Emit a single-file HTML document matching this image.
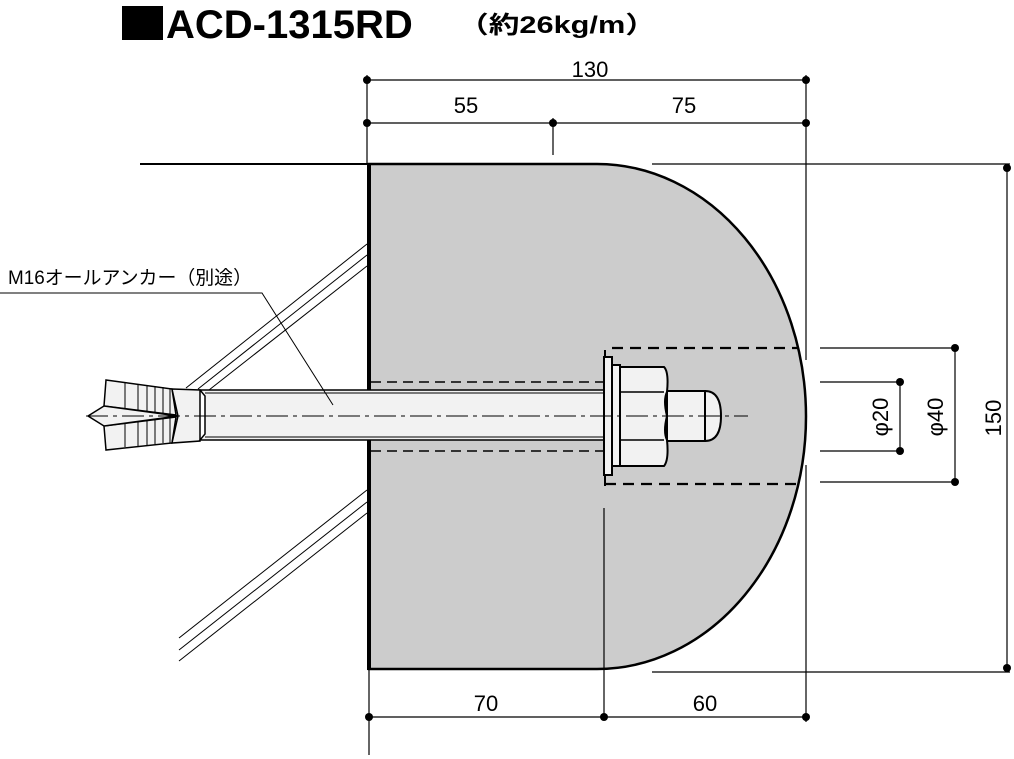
<!DOCTYPE html>
<html><head><meta charset="utf-8"><style>
body{margin:0;background:#fff;width:1014px;height:759px;overflow:hidden}
svg{display:block}
text{font-family:"Liberation Sans","Noto Sans CJK JP",sans-serif;fill:#000}
</style></head><body>
<svg width="1014" height="759" viewBox="0 0 1014 759" xmlns="http://www.w3.org/2000/svg">
<!-- title -->
<rect x="122" y="6" width="41" height="34" fill="#000"/>
<text x="166" y="38" font-size="40" font-weight="bold">ACD-1315RD</text>
<text x="458" y="33" font-size="24" font-weight="bold" textLength="198" lengthAdjust="spacingAndGlyphs">（約26kg/m）</text>

<!-- body -->
<path d="M369,164 L597,164 A209,252.5 0 0 1 597,669 L369,669 Z" fill="#cccccc" stroke="#000" stroke-width="2.5"/>
<line x1="369" y1="163" x2="369" y2="670" stroke="#000" stroke-width="4"/>
<line x1="140" y1="164" x2="369" y2="164" stroke="#000" stroke-width="2"/>

<!-- diagonal lines -->
<g stroke="#000" stroke-width="1">
<line x1="367" y1="244" x2="186" y2="388"/>
<line x1="367" y1="255" x2="198" y2="389"/>
<line x1="367" y1="266" x2="209" y2="390"/>
<line x1="367" y1="490" x2="179" y2="638"/>
<line x1="367" y1="502" x2="179" y2="650"/>
<line x1="367" y1="513" x2="179" y2="661"/>
</g>

<!-- hole dashed -->
<g stroke="#000" stroke-width="1.5" stroke-dasharray="10,6" fill="none">
<line x1="371" y1="382" x2="603" y2="382"/>
<line x1="371" y1="451" x2="603" y2="451"/>
</g>
<g stroke="#000" stroke-width="2.2" stroke-dasharray="11,7" fill="none">
<line x1="612" y1="348" x2="798" y2="348"/>
<line x1="605" y1="484" x2="798" y2="484"/>
</g>
<line x1="605" y1="350" x2="605" y2="486" stroke="#000" stroke-width="2"/>

<!-- anchor -->
<g stroke="#000" stroke-width="1.5" fill="#f2f2f2">
<polygon points="106,380 172,389 176,415 104,406"/>
<polygon points="104,426 176,417 172,443 106,450"/>
<polygon points="88,416 104,406 178,416 104,426"/>
<polygon points="172,389 200,390 200,441 172,443 178,416"/>
<path d="M200,390 L607,390 L607,440 L200,440 L205,434 L205,396 Z"/>
</g>
<g stroke="#000" stroke-width="1">
<line x1="125" y1="383" x2="125" y2="408"/><line x1="138" y1="384" x2="138" y2="410"/>
<line x1="147" y1="385" x2="147" y2="411"/><line x1="155" y1="386" x2="155" y2="412"/>
<line x1="163" y1="387" x2="163" y2="413"/><line x1="170" y1="388" x2="170" y2="414"/>
<line x1="125" y1="423" x2="125" y2="447"/><line x1="138" y1="421" x2="138" y2="446"/>
<line x1="147" y1="420" x2="147" y2="445"/><line x1="155" y1="419" x2="155" y2="444"/>
<line x1="163" y1="418" x2="163" y2="443"/><line x1="170" y1="417" x2="170" y2="443"/>
<line x1="205" y1="393" x2="607" y2="393"/><line x1="205" y1="437" x2="607" y2="437"/>
</g>
<!-- washers, nut, stud -->
<g stroke="#000" stroke-width="2" fill="#f2f2f2">
<path d="M705,391 Q721,391 721,416 Q721,441 705,441 Z"/>
<rect x="667" y="391" width="38" height="50"/>
<path d="M620,367 L664,367 Q669,372 667,392 Q663,400 667,416 Q663,432 667,440 Q669,460 664,466 L620,466 Z"/>
<rect x="612" y="365" width="8" height="101"/>
<rect x="604" y="357" width="8" height="118"/>
</g>
<g stroke="#000" stroke-width="1.5">
<line x1="620" y1="392" x2="664" y2="392"/><line x1="620" y1="440" x2="664" y2="440"/>
</g>
<!-- centerline -->
<line x1="86" y1="416" x2="748" y2="416" stroke="#000" stroke-width="1" stroke-dasharray="22,5,4,5"/>

<!-- label -->
<text x="8" y="284" font-size="19" textLength="244" lengthAdjust="spacingAndGlyphs">M16オールアンカー（別途）</text>
<polyline points="0,293 262,293 333,405" fill="none" stroke="#000" stroke-width="1"/>

<!-- dimension lines -->
<g stroke="#000" stroke-width="1.2" fill="none">
<line x1="367" y1="80" x2="806" y2="80"/>
<line x1="367" y1="123" x2="806" y2="123"/>
<line x1="367" y1="75" x2="367" y2="164"/>
<line x1="553" y1="118" x2="553" y2="155"/>
<line x1="806" y1="75" x2="806" y2="360"/>
<line x1="806" y1="465" x2="806" y2="722"/>
<line x1="369" y1="669" x2="369" y2="755"/>
<line x1="604" y1="508" x2="604" y2="720"/>
<line x1="369" y1="717" x2="806" y2="717"/>
<line x1="652" y1="164" x2="1010" y2="164"/>
<line x1="652" y1="672" x2="1010" y2="672"/>
<line x1="1007" y1="168" x2="1007" y2="668"/>
<line x1="820" y1="348" x2="955" y2="348"/>
<line x1="820" y1="482" x2="955" y2="482"/>
<line x1="955" y1="348" x2="955" y2="482"/>
<line x1="820" y1="382" x2="900" y2="382"/>
<line x1="820" y1="451" x2="900" y2="451"/>
<line x1="900" y1="382" x2="900" y2="451"/>
</g>
<g fill="#000">
<circle cx="367" cy="80" r="4"/><circle cx="806" cy="80" r="4"/>
<circle cx="367" cy="123" r="4"/><circle cx="553" cy="123" r="4"/><circle cx="806" cy="123" r="4"/>
<circle cx="369" cy="717" r="4"/><circle cx="604" cy="717" r="4"/><circle cx="806" cy="717" r="4"/>
<circle cx="1007" cy="168" r="4"/><circle cx="1007" cy="668" r="4"/>
<circle cx="955" cy="348" r="4"/><circle cx="955" cy="482" r="4"/>
<circle cx="900" cy="382" r="4"/><circle cx="900" cy="451" r="4"/>
</g>
<g font-size="22" text-anchor="middle">
<text x="590" y="77">130</text>
<text x="466" y="113">55</text>
<text x="684" y="113">75</text>
<text x="486" y="711">70</text>
<text x="705" y="711">60</text>
<text transform="translate(1001,418) rotate(-90)">150</text>
<text transform="translate(888,417) rotate(-90)">φ20</text>
<text transform="translate(943,417) rotate(-90)">φ40</text>
</g>
</svg>
</body></html>
